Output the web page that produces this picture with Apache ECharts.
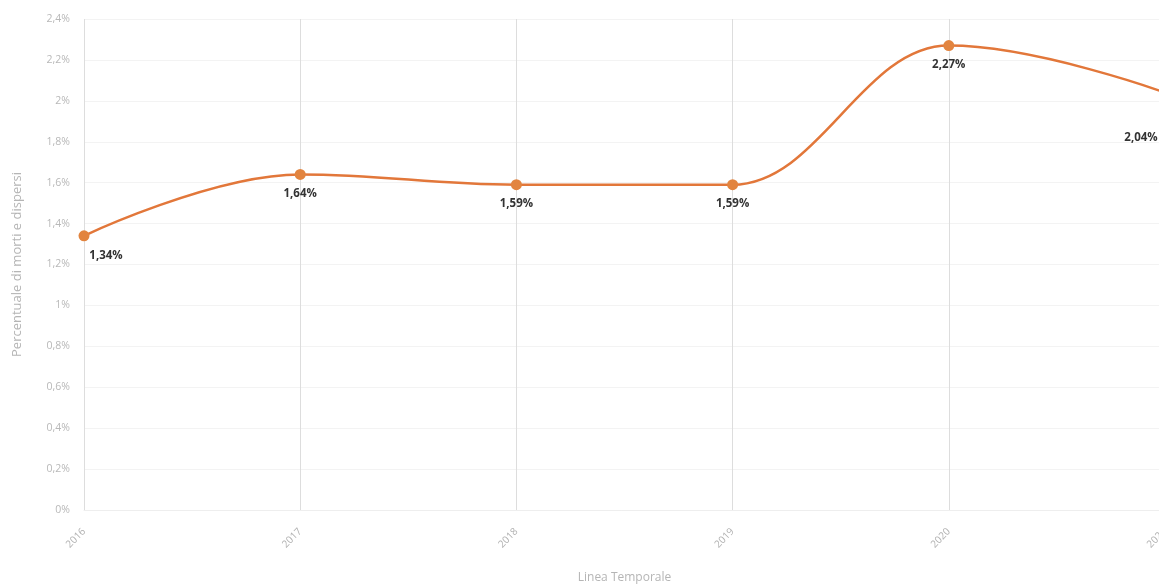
<!DOCTYPE html>
<html><head><meta charset="utf-8">
<script src="https://cdn.jsdelivr.net/npm/echarts@6/dist/echarts.min.js"></script>
<style>html,body{margin:0;padding:0;background:#fff}#c{width:1159px;height:588px}</style>
</head><body><div id="c"></div>
<script>
const years = ['2016','2017','2018','2019','2020','2021'];
const values = [1.34, 1.64, 1.59, 1.59, 2.27, 2.04];
const yAxisName = 'Percentuale di morti e dispersi';
const xAxisName = 'Linea Temporale';

const fmtPct = v => String(parseFloat(v.toFixed(2))).replace('.', ',') + '%';
const chart = echarts.init(document.getElementById('c'));
const data = values.map((v, i) => {
  const d = { value: v };
  if (i === 0) d.label = { offset: [22, 0] };
  if (i === values.length - 1) d.label = { offset: [-24, 26] };
  return d;
});
chart.setOption({
  animation: false,
  textStyle: { fontFamily: 'Open Sans' },
  grid: { left: 84, width: 1081, top: 19, height: 491, outerBoundsMode: 'none', containLabel: false },
  xAxis: {
    type: 'category', data: years, boundaryGap: false,
    name: xAxisName, nameLocation: 'middle', nameGap: 62,
    nameTextStyle: { color: '#b5b5b5', fontSize: 12 },
    axisLine: { lineStyle: { color: '#eeeeee' } },
    axisTick: { show: false },
    axisLabel: { rotate: 45, color: '#b0b0b0', fontSize: 10, margin: 20 },
    splitLine: { show: true, lineStyle: { color: '#dddddd', width: 1 } }
  },
  yAxis: {
    type: 'value', min: 0, max: 2.4, interval: 0.2,
    name: yAxisName, nameLocation: 'middle', nameGap: 60,
    nameTextStyle: { color: '#b5b5b5', fontSize: 13 },
    axisLine: { show: false }, axisTick: { show: false },
    axisLabel: { color: '#b8b8b8', fontSize: 10.5, margin: 14, formatter: v => fmtPct(v) },
    splitLine: { lineStyle: { color: '#f3f3f3' } }
  },
  series: [{
    type: 'line', data: data, smooth: 0.4, smoothMonotone: 'x',
    symbol: 'circle', symbolSize: 11,
    lineStyle: { color: '#e2773a', width: 2.5 },
    itemStyle: { color: '#e2843f' },
    label: { show: true, position: 'bottom', distance: 8, color: '#333', fontWeight: 'bold', fontSize: 11.5,
      formatter: p => fmtPct(p.value) }
  }]
});
</script></body></html>
